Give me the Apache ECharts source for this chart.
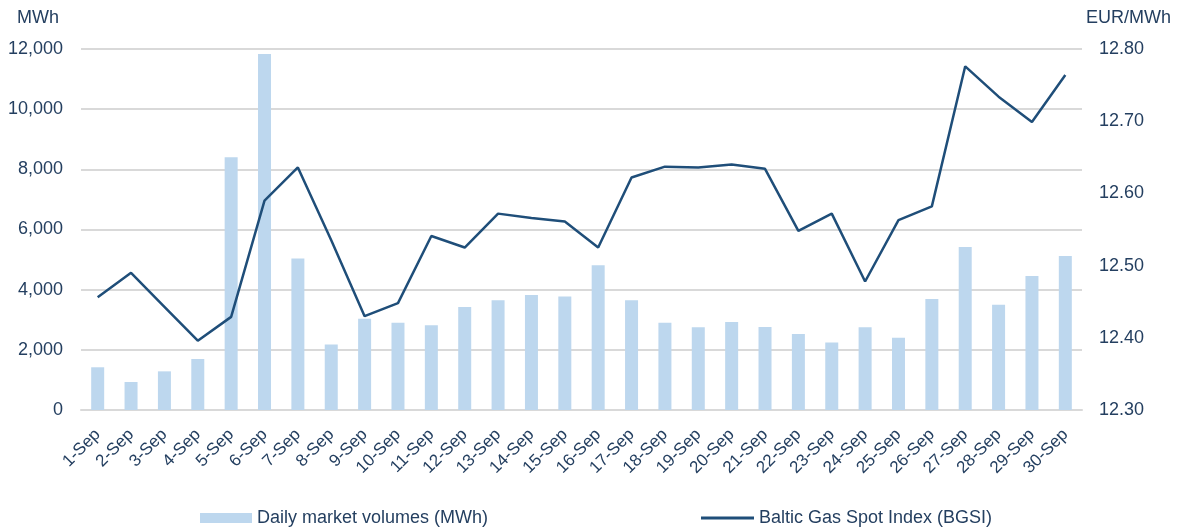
<!DOCTYPE html>
<html>
<head>
<meta charset="utf-8">
<script src="https://cdn.jsdelivr.net/npm/echarts@6/dist/echarts.min.js"></script>
<style>
  html, body { margin: 0; padding: 0; background: #fff; }
  #chart { width: 1182px; height: 528px; }
</style>
</head>
<body>
<div id="chart"></div>
<script>
// categories
const days = ['1-Sep', '2-Sep', '3-Sep', '4-Sep', '5-Sep', '6-Sep', '7-Sep', '8-Sep', '9-Sep', '10-Sep',
  '11-Sep', '12-Sep', '13-Sep', '14-Sep', '15-Sep', '16-Sep', '17-Sep', '18-Sep', '19-Sep', '20-Sep',
  '21-Sep', '22-Sep', '23-Sep', '24-Sep', '25-Sep', '26-Sep', '27-Sep', '28-Sep', '29-Sep', '30-Sep'];

// daily market volumes, MWh
const volumes = [1420, 930, 1285, 1695, 8400, 11835, 5040, 2180, 3035, 2900,
  2815, 3420, 3645, 3820, 3770, 4810, 3645, 2900, 2750, 2925,
  2760, 2530, 2240, 2750, 2405, 3690, 5420, 3500, 4455, 5120];

// Baltic Gas Spot Index, EUR/MWh
const bgsi = [12.456, 12.490, 12.443, 12.396, 12.429, 12.590, 12.636, 12.535, 12.430, 12.448,
  12.541, 12.525, 12.572, 12.566, 12.561, 12.525, 12.622, 12.637, 12.636, 12.640,
  12.634, 12.548, 12.572, 12.478, 12.563, 12.582, 12.776, 12.734, 12.699, 12.764];

const textColor = '#243F60';
const font = 'Liberation Sans';

const chart = echarts.init(document.getElementById('chart'));

chart.setOption({
  animation: false,
  textStyle: { fontFamily: font, color: textColor },
  grid: { left: 81, right: 100, top: 49, bottom: 118, containLabel: false },
  legend: [
    {
      data: [{ name: 'Daily market volumes (MWh)', icon: 'rect' }],
      left: 200, top: 509, padding: 0,
      itemWidth: 52, itemHeight: 10, itemGap: 6,
      textStyle: { fontFamily: font, fontSize: 18, color: textColor }
    },
    {
      data: [{ name: 'Baltic Gas Spot Index (BGSI)', icon: 'rect' }],
      left: 701, top: 509, padding: 0,
      itemWidth: 53, itemHeight: 3, itemGap: 6,
      textStyle: { fontFamily: font, fontSize: 18, color: textColor }
    }
  ],
  xAxis: {
    type: 'category',
    data: days,
    axisLine: { lineStyle: { color: '#D9D9D9', width: 2 } },
    axisTick: { show: false },
    axisLabel: { rotate: 45, fontSize: 17, color: textColor, margin: 22, interval: 0 }
  },
  yAxis: [
    {
      type: 'value',
      min: 0, max: 12000, interval: 2000,
      name: 'MWh',
      nameGap: 22,
      nameTextStyle: { fontSize: 18, color: textColor, align: 'right', padding: [0, 22, 0, 0] },
      axisLine: { show: false },
      axisTick: { show: false },
      axisLabel: {
        fontSize: 18, color: textColor, margin: 18,
        formatter: v => v.toLocaleString('en-US')
      },
      splitLine: { lineStyle: { color: '#D9D9D9', width: 2 } }
    },
    {
      type: 'value',
      min: 12.3, max: 12.8, interval: 0.1,
      name: 'EUR/MWh',
      nameGap: 22,
      nameTextStyle: { fontSize: 18, color: textColor, align: 'left', padding: [0, 0, 0, 4] },
      axisLine: { show: false },
      axisTick: { show: false },
      axisLabel: {
        fontSize: 18, color: textColor, margin: 17,
        formatter: v => v.toFixed(2)
      },
      splitLine: { show: false }
    }
  ],
  series: [
    {
      name: 'Daily market volumes (MWh)',
      type: 'bar',
      data: volumes,
      barWidth: 13,
      itemStyle: { color: '#BDD7EE' }
    },
    {
      name: 'Baltic Gas Spot Index (BGSI)',
      type: 'line',
      yAxisIndex: 1,
      data: bgsi,
      symbol: 'none',
      lineStyle: { color: '#1F4E79', width: 2.5 },
      itemStyle: { color: '#1F4E79' }
    }
  ]
});
</script>
</body>
</html>
